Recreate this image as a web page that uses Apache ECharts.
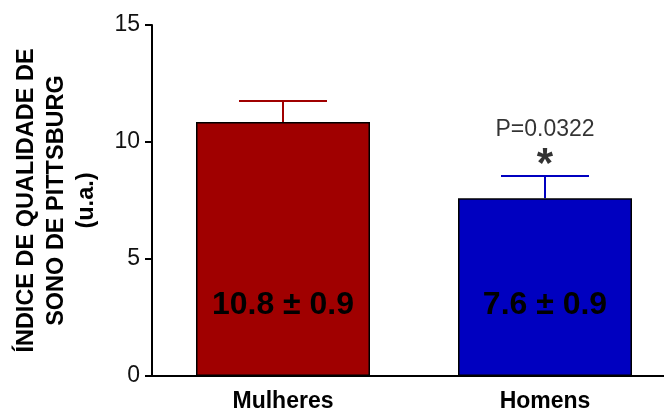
<!DOCTYPE html>
<html>
<head>
<meta charset="utf-8">
<script src="https://cdn.jsdelivr.net/npm/echarts@6/dist/echarts.min.js"></script>
<style>
  html, body { margin: 0; padding: 0; background: #fff; }
  #chart { width: 664px; height: 413px; }
</style>
</head>
<body>
<div id="chart"></div>
<script>
const categories = ['Mulheres', 'Homens']
const means = [10.85, 7.6]
const sems = [0.9, 0.95]
const barTexts = ['10.8 \u00b1 0.9', '7.6 \u00b1 0.9']
const pValues = ['', 'P=0.0322']
const barColors = ['#a00000', '#0000c0']
const yTicks = [0, 5, 10, 15]

const FONT = '"Liberation Sans", Arial, sans-serif'

const chart = echarts.init(document.getElementById('chart'))

const option = {
  animation: false,
  backgroundColor: '#fff',
  grid: { left: 152, top: 25, width: 524, height: 351, containLabel: false, outerBoundsMode: 'none' },
  xAxis: {
    type: 'category',
    data: categories,
    axisLine: { lineStyle: { color: '#000', width: 2 } },
    axisTick: { alignWithLabel: true, length: 8, lineStyle: { color: '#000', width: 2 } },
    axisLabel: { color: '#000', fontFamily: FONT, fontWeight: 'bold', fontSize: 23, margin: 14 }
  },
  yAxis: {
    type: 'value',
    min: yTicks[0],
    max: yTicks[yTicks.length - 1],
    interval: 5,
    name: 'ÍNDICE DE QUALIDADE DE\nSONO DE PITTSBURG\n(u.a.)',
    nameLocation: 'middle',
    nameGap: 50,
    nameRotate: 90,
    nameTextStyle: { color: '#000', fontFamily: FONT, fontWeight: 'bold', fontSize: 23.5, lineHeight: 30 },
    axisLine: { show: true, lineStyle: { color: '#000', width: 2 } },
    axisTick: { show: true, length: 7, lineStyle: { color: '#000', width: 2 } },
    axisLabel: { color: '#111', fontFamily: FONT, fontSize: 23, margin: 12 },
    splitLine: { show: false }
  },
  series: [
    {
      type: 'bar',
      barWidth: 174,
      data: means.map((v, i) => ({
        value: v,
        itemStyle: { color: barColors[i], borderColor: '#000', borderWidth: 1.5 }
      })),
      label: {
        show: true,
        position: 'insideBottom',
        distance: 55,
        formatter: (p) => barTexts[p.dataIndex],
        color: '#000',
        fontFamily: FONT,
        fontWeight: 'bold',
        fontSize: 32
      },
      z: 2
    },
    {
      type: 'custom',
      data: means.map((v, i) => [i, v, sems[i]]),
      renderItem: (params, api) => {
        const i = api.value(0)
        const m = api.value(1)
        const e = api.value(2)
        const base = api.coord([i, m])
        const top = api.coord([i, m + e])
        const half = 44
        const style = { stroke: barColors[i], lineWidth: 2 }
        return {
          type: 'group',
          children: [
            { type: 'line', shape: { x1: top[0], y1: base[1], x2: top[0], y2: top[1] }, style },
            { type: 'line', shape: { x1: top[0] - half, y1: top[1], x2: top[0] + half, y2: top[1] }, style }
          ]
        }
      },
      z: 1
    },
    {
      type: 'scatter',
      symbolSize: 0,
      data: means.map((v, i) => [i, v + sems[i]]),
      label: {
        show: true,
        position: 'top',
        distance: 0,
        formatter: (p) => pValues[p.dataIndex] ? '{p|' + pValues[p.dataIndex] + '}\n{s|*}' : '',
        rich: {
          p: { color: '#000', fontFamily: FONT, fontSize: 23, lineHeight: 48 },
          s: { color: '#000', fontFamily: FONT, fontWeight: 'bold', fontSize: 42, lineHeight: 22 }
        }
      },
      z: 3
    }
  ]
}

chart.setOption(option)
</script>
</body>
</html>
